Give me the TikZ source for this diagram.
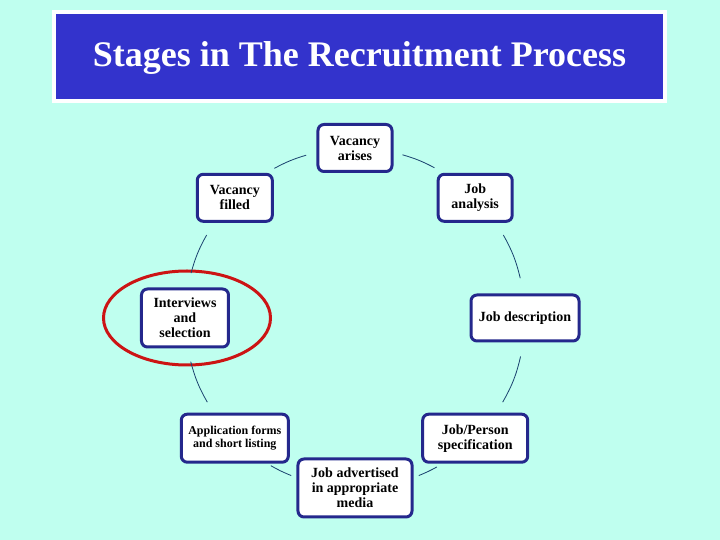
\documentclass[tikz,border=0pt]{standalone}
\usepackage{fontspec}
\setmainfont{Liberation Serif}
\usetikzlibrary{positioning,shapes.geometric}
\definecolor{slidebg}{RGB}{191,255,239}
\definecolor{titleblue}{RGB}{51,51,204}
\definecolor{boxnavy}{RGB}{36,40,140}
\definecolor{linkblue}{RGB}{25,65,110}
\definecolor{ringred}{RGB}{204,20,20}

\tikzset{
  stage/.style={draw=boxnavy, line width=3pt, fill=white, rounded corners=6pt,
    align=center, inner sep=2pt, font=\fontsize{14}{15}\selectfont\bfseries},
  small stage/.style={stage, font=\fontsize{12}{13}\selectfont\bfseries},
  link/.style={draw=linkblue, line width=0.8pt},
}

\begin{document}
\begin{tikzpicture}[x=1pt, y=1pt]
  \useasboundingbox[fill=slidebg] (-355,-222) rectangle (365,318);

  % title banner
  \node[draw=white, line width=4pt, fill=titleblue, text=white,
    minimum width=611pt, minimum height=89pt, text height=24pt, text depth=4pt,
    font=\fontsize{36}{38}\selectfont\bfseries] (title) at (4.5,261.5)
    {Stages in The Recruitment Process};

  % the eight stages round the cycle
  \node[stage, minimum width=74pt, minimum height=47pt] (arises) at (90:170) {Vacancy\\arises};
  \node[stage, minimum width=74pt, minimum height=47pt] (analysis) at (45:170) {Job\\analysis};
  \node[stage, minimum width=108pt, minimum height=46pt] (jobdesc) at (0:170) {Job description};
  \node[stage, minimum width=105pt, minimum height=48pt] (spec) at (-45:170) {Job/Person\\specification};
  \node[stage, minimum width=114pt, minimum height=58pt] (advert) at (-90:170) {Job advertised\\in appropriate\\media};
  \node[small stage, minimum width=107pt, minimum height=48pt] (shortlist) at (-135:170) {Application forms\\and short listing};
  \node[stage, minimum width=87pt, minimum height=58pt] (interview) at (180:170) {Interviews\\and\\selection};
  \node[stage, minimum width=75pt, minimum height=47pt] (filled) at (135:170) {Vacancy\\filled};

  % highlight
  \node[draw=ringred, line width=3pt, ellipse, minimum width=167pt, minimum height=94pt]
    (ring) at ([xshift=2pt]interview.center) {};

  % short arcs between neighbours
  \foreach \a/\b/\s/\e in {arises/analysis/.36/.62, analysis/jobdesc/.35/.70,
      jobdesc/spec/.29/.66, spec/advert/.36/.51, advert/shortlist/.49/.66,
      shortlist/interview/.34/.67, interview/filled/.34/.65, filled/arises/.37/.63}{
    \pgfmathsetmacro\bend{(\e-\s)*22.5}
    \path (\a.center) to[bend left=22.5, looseness=.885]
      coordinate[pos=\s] (\a-s) coordinate[pos=\e] (\a-e) (\b.center);
    \draw[link] (\a-s) to[bend left=\bend] (\a-e);
  }
\end{tikzpicture}
\end{document}
